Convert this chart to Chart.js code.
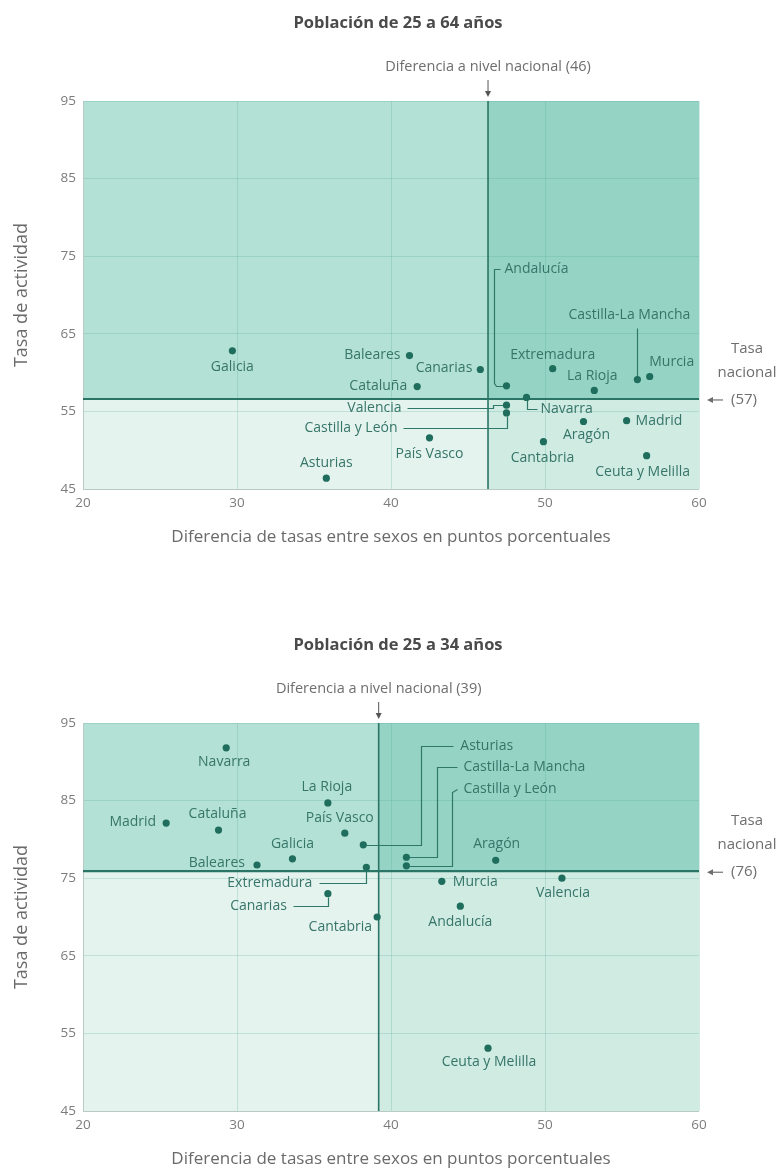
<!DOCTYPE html>
<html>
<head>
<meta charset="utf-8">
<script src="https://cdn.jsdelivr.net/npm/chart.js@4.4.1/dist/chart.umd.min.js"></script>
<style>
  body { margin: 0; background: #fff; }
  .box { position: absolute; left: 0; width: 780px; height: 547px; }
</style>
</head>
<body>
<div class="box" style="top:0"><canvas id="chartAll" width="780" height="547"></canvas></div>
<div class="box" style="top:622px"><canvas id="chartYoung" width="780" height="547"></canvas></div>
<script>
// Población de 25 a 64 años
const regionsAll = ['Galicia', 'Baleares', 'Cataluña', 'Asturias', 'Canarias', 'Andalucía', 'Valencia',
  'Castilla y León', 'Navarra', 'Extremadura', 'La Rioja', 'Castilla-La Mancha', 'Murcia', 'Madrid',
  'Aragón', 'Cantabria', 'País Vasco', 'Ceuta y Melilla'];
const diffAll = [29.7, 41.2, 41.7, 35.8, 45.8, 47.5, 47.5, 47.5, 48.8, 50.5, 53.2, 56.0, 56.8, 55.3, 52.5, 49.9, 42.5, 56.6];
const rateAll = [62.8, 62.2, 58.2, 46.4, 60.4, 58.3, 55.8, 54.8, 56.8, 60.5, 57.7, 59.1, 59.5, 53.8, 53.7, 51.1, 51.6, 49.3];
const nationalDiffAll = 46.3;
const nationalRateAll = 56.6;

// Población de 25 a 34 años
const regionsYoung = ['Navarra', 'La Rioja', 'Madrid', 'Cataluña', 'País Vasco', 'Galicia', 'Baleares',
  'Extremadura', 'Canarias', 'Cantabria', 'Asturias', 'Castilla-La Mancha', 'Castilla y León', 'Aragón',
  'Murcia', 'Valencia', 'Andalucía', 'Ceuta y Melilla'];
const diffYoung = [29.3, 35.9, 25.4, 28.8, 37.0, 33.6, 31.3, 38.4, 35.9, 39.1, 38.2, 41.0, 41.0, 46.8, 43.3, 51.1, 44.5, 46.3];
const rateYoung = [91.8, 84.7, 82.1, 81.2, 80.8, 77.5, 76.7, 76.4, 73.0, 70.0, 79.3, 77.7, 76.6, 77.3, 74.6, 75.0, 71.4, 53.1];
const nationalDiffYoung = 39.2;
const nationalRateYoung = 75.9;

const xTicks = [20, 30, 40, 50, 60];
const yTicks = [45, 55, 65, 75, 85, 95];

// label placement, offsets in px from the point
const layoutAll = {
  'Galicia': { a: 'center', dx: 0, dy: 16 },
  'Baleares': { a: 'right', dx: -9, dy: -1 },
  'Cataluña': { a: 'right', dx: -10, dy: -1 },
  'Asturias': { a: 'center', dx: 0, dy: -15 },
  'Canarias': { a: 'right', dx: -8, dy: -1 },
  'Andalucía': { a: 'left', dx: -2, dy: -117, line: [[-3, 0], [-11, 0], [-13, -3], [-13, -117], [-7, -117]] },
  'Valencia': { a: 'right', dx: -105, dy: 3, line: [[-100, 3], [-14, 3], [-14, 0], [-4, 0]] },
  'Castilla y León': { a: 'right', dx: -109, dy: 15, line: [[-104, 15], [0, 15], [0, 3]] },
  'Navarra': { a: 'left', dx: 14, dy: 12, line: [[0, 3], [0, 12], [10, 12]] },
  'Extremadura': { a: 'center', dx: 0, dy: -14 },
  'La Rioja': { a: 'center', dx: -2, dy: -14 },
  'Castilla-La Mancha': { a: 'center', dx: -8, dy: -65, line: [[0, -52], [0, -4]] },
  'Murcia': { a: 'center', dx: 22, dy: -14 },
  'Madrid': { a: 'left', dx: 9, dy: 0 },
  'Aragón': { a: 'center', dx: 3, dy: 14 },
  'Cantabria': { a: 'center', dx: -1, dy: 16 },
  'País Vasco': { a: 'center', dx: 0, dy: 16 },
  'Ceuta y Melilla': { a: 'center', dx: -4, dy: 16 }
};
const layoutYoung = {
  'Navarra': { a: 'center', dx: -2, dy: 14 },
  'La Rioja': { a: 'center', dx: -1, dy: -16 },
  'Madrid': { a: 'right', dx: -10, dy: -1 },
  'Cataluña': { a: 'center', dx: -1, dy: -16 },
  'País Vasco': { a: 'center', dx: -5, dy: -15 },
  'Galicia': { a: 'center', dx: 0, dy: -15 },
  'Baleares': { a: 'right', dx: -12, dy: -2 },
  'Extremadura': { a: 'right', dx: -54, dy: 16, line: [[-47, 16], [0, 16], [0, 3]] },
  'Canarias': { a: 'right', dx: -41, dy: 12, line: [[-35, 12], [0, 12], [0, 3]] },
  'Cantabria': { a: 'right', dx: -5, dy: 10 },
  'Asturias': { a: 'left', dx: 97, dy: -99, line: [[3, 0], [58, 0], [58, -99], [90, -99]] },
  'Castilla-La Mancha': { a: 'left', dx: 57, dy: -90, line: [[3, 0], [31, 0], [31, -90], [51, -90]] },
  'Castilla y León': { a: 'left', dx: 57, dy: -77, line: [[3, 0], [46, 0], [46, -74], [51, -77]] },
  'Aragón': { a: 'center', dx: 1, dy: -16 },
  'Murcia': { a: 'left', dx: 11, dy: 1 },
  'Valencia': { a: 'center', dx: 1, dy: 15 },
  'Andalucía': { a: 'center', dx: 0, dy: 16 },
  'Ceuta y Melilla': { a: 'center', dx: 1, dy: 14 }
};

const FONT = '"Open Sans", "DejaVu Sans", sans-serif';
const teal = '#1f6d5d';
const labelColor = '#367568';
const grayText = '#7c7c7c';

const quadrantPlugin = {
  id: 'quadrants',
  beforeDraw(chart, args, opts) {
    const { ctx, chartArea: ca, scales: { x, y } } = chart;
    const vx = x.getPixelForValue(opts.natX);
    const hy = y.getPixelForValue(opts.natY);
    ctx.save();
    ctx.fillStyle = '#b4e1d5'; ctx.fillRect(ca.left, ca.top, vx - ca.left, hy - ca.top);
    ctx.fillStyle = '#95d4c4'; ctx.fillRect(vx, ca.top, ca.right - vx, hy - ca.top);
    ctx.fillStyle = '#e4f3ee'; ctx.fillRect(ca.left, hy, vx - ca.left, ca.bottom - hy);
    ctx.fillStyle = '#cfebe2'; ctx.fillRect(vx, hy, ca.right - vx, ca.bottom - hy);
    ctx.restore();
  },
  beforeDatasetsDraw(chart, args, opts) {
    const { ctx, chartArea: ca, scales: { x, y } } = chart;
    const vx = x.getPixelForValue(opts.natX);
    const hy = y.getPixelForValue(opts.natY);
    ctx.save();
    // frame
    ctx.strokeStyle = '#b9c9c4';
    ctx.lineWidth = 1;
    ctx.beginPath();
    ctx.moveTo(ca.left + 0.5, ca.top);
    ctx.lineTo(ca.left + 0.5, ca.bottom + 0.5);
    ctx.lineTo(ca.right, ca.bottom + 0.5);
    ctx.stroke();
    // national lines
    ctx.strokeStyle = '#2a7565';
    ctx.lineWidth = 1.6;
    ctx.beginPath(); ctx.moveTo(vx, ca.top); ctx.lineTo(vx, ca.bottom); ctx.stroke();
    ctx.lineWidth = 2.2;
    ctx.beginPath(); ctx.moveTo(ca.left, hy); ctx.lineTo(ca.right, hy); ctx.stroke();
    // leader lines
    const meta = chart.getDatasetMeta(0);
    ctx.strokeStyle = '#2f7768';
    ctx.lineWidth = 1.2;
    opts.names.forEach((name, i) => {
      const L = opts.layout[name];
      if (!L || !L.line) return;
      const p = meta.data[i];
      ctx.beginPath();
      L.line.forEach(([dx, dy], k) => {
        const px = Math.round(p.x + dx) + 0.5, py = Math.round(p.y + dy) + 0.5;
        if (k === 0) ctx.moveTo(px, py); else ctx.lineTo(px, py);
      });
      ctx.stroke();
    });
    ctx.restore();
  },
  afterDatasetsDraw(chart, args, opts) {
    const { ctx, chartArea: ca, scales: { x, y } } = chart;
    const vx = x.getPixelForValue(opts.natX);
    const hy = y.getPixelForValue(opts.natY);
    const meta = chart.getDatasetMeta(0);
    ctx.save();
    ctx.textBaseline = 'middle';
    // point labels
    ctx.font = '14px ' + FONT;
    ctx.fillStyle = labelColor;
    opts.names.forEach((name, i) => {
      const L = opts.layout[name];
      const p = meta.data[i];
      ctx.textAlign = L.a;
      ctx.fillText(name, p.x + L.dx, p.y + L.dy);
    });
    // title
    ctx.fillStyle = '#4a4a4a';
    ctx.textAlign = 'center';
    ctx.font = 'bold 16.5px ' + FONT;
    ctx.fillText(opts.title, (ca.left + ca.right) / 2 + 7, ca.top - 78);
    // national difference
    ctx.fillStyle = '#6e6e6e';
    ctx.font = '14.5px ' + FONT;
    ctx.fillText(opts.diffText, vx, ca.top - 34);
    ctx.strokeStyle = '#555'; ctx.fillStyle = '#555'; ctx.lineWidth = 1;
    ctx.beginPath(); ctx.moveTo(vx, ca.top - 21); ctx.lineTo(vx, ca.top - 8); ctx.stroke();
    ctx.beginPath(); ctx.moveTo(vx - 3, ca.top - 10); ctx.lineTo(vx + 3, ca.top - 10); ctx.lineTo(vx, ca.top - 4); ctx.closePath(); ctx.fill();
    // national rate
    ctx.fillStyle = '#6e6e6e';
    ctx.font = '15px ' + FONT;
    const tx = ca.right + 48;
    ctx.fillText('Tasa', tx, hy - 50);
    ctx.fillText('nacional', tx, hy - 26);
    ctx.textAlign = 'left';
    ctx.fillText(opts.rateText, ca.right + 32, hy + 1);
    ctx.beginPath(); ctx.moveTo(ca.right + 24, hy + 1); ctx.lineTo(ca.right + 13, hy + 1); ctx.stroke();
    ctx.beginPath(); ctx.moveTo(ca.right + 8, hy + 1); ctx.lineTo(ca.right + 14, hy - 2); ctx.lineTo(ca.right + 14, hy + 4); ctx.closePath(); ctx.fill();
    // axis titles
    ctx.textAlign = 'center';
    ctx.fillStyle = '#6a6a6a';
    ctx.font = '17px ' + FONT;
    ctx.fillText('Diferencia de tasas entre sexos en puntos porcentuales', (ca.left + ca.right) / 2, ca.bottom + 48);
    ctx.font = '18px ' + FONT;
    ctx.translate(22, (ca.top + ca.bottom) / 2);
    ctx.rotate(-Math.PI / 2);
    ctx.fillText('Tasa de actividad', 0, 0);
    ctx.restore();
  }
};

function makeChart(id, names, xs, ys, natX, natY, layout, title, diffText, rateText) {
  const ctx = document.getElementById(id).getContext('2d');
  return new Chart(ctx, {
    type: 'scatter',
    data: {
      datasets: [{
        data: xs.map((v, i) => ({ x: v, y: ys[i] })),
        backgroundColor: teal,
        borderWidth: 0,
        pointRadius: 3.6
      }]
    },
    options: {
      responsive: false,
      animation: false,
      layout: { padding: { top: 101, right: 81, left: 0, bottom: 0 } },
      plugins: {
        legend: { display: false },
        tooltip: { enabled: false },
        quadrants: { natX, natY, names, layout, title, diffText, rateText }
      },
      scales: {
        x: {
          type: 'linear', min: 20, max: 60,
          afterBuildTicks: s => { s.ticks = xTicks.map(v => ({ value: v })); },
          afterFit: s => { s.height = 58; },
          ticks: { padding: 6, color: grayText, font: { family: FONT, size: 13.5 } },
          grid: { color: 'rgba(70,160,140,0.22)', drawTicks: false },
          border: { display: false }
        },
        y: {
          min: 45, max: 95,
          afterBuildTicks: s => { s.ticks = yTicks.map(v => ({ value: v })); },
          afterFit: s => { s.width = 83; },
          ticks: { padding: 7, color: grayText, font: { family: FONT, size: 13.5 } },
          grid: { color: 'rgba(70,160,140,0.22)', drawTicks: false },
          border: { display: false }
        }
      }
    },
    plugins: [quadrantPlugin]
  });
}

makeChart('chartAll', regionsAll, diffAll, rateAll, nationalDiffAll, nationalRateAll, layoutAll,
  'Población de 25 a 64 años', 'Diferencia a nivel nacional (46)', '(57)');
makeChart('chartYoung', regionsYoung, diffYoung, rateYoung, nationalDiffYoung, nationalRateYoung, layoutYoung,
  'Población de 25 a 34 años', 'Diferencia a nivel nacional (39)', '(76)');
</script>
</body>
</html>
